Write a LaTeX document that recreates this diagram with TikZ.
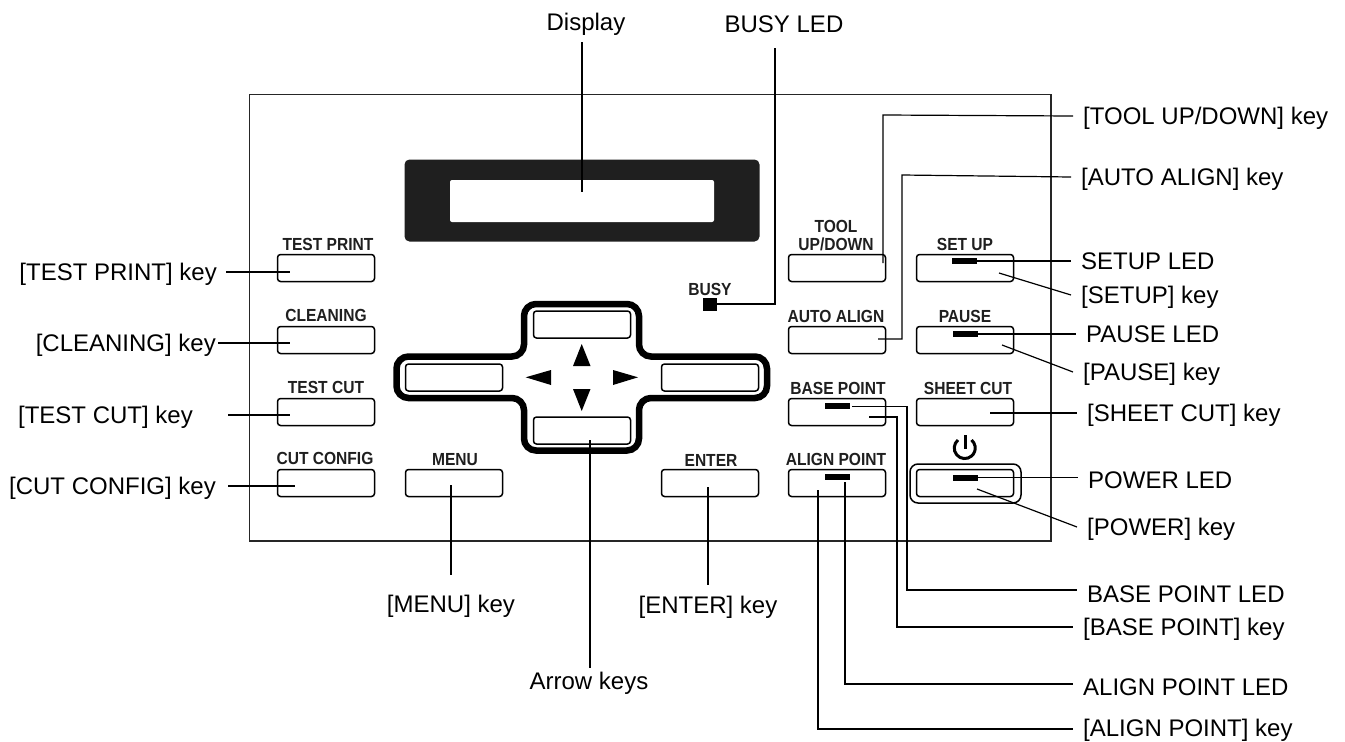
\documentclass[tikz,border=0pt]{standalone}
\usepackage{fontspec}
\setmainfont{Liberation Sans}
\newfontfamily\keyfont[BoldFeatures={FakeStretch=0.89}]{Liberation Sans}
\tikzset{
  x=1pt,y=-1pt,
  panelkey/.style={draw=black,line width=1.5pt,rounded corners=3pt,inner sep=0pt,minimum width=97pt,minimum height=27pt},
  keytext/.style={inner sep=0pt,font=\keyfont\fontsize{17.5}{18}\selectfont\bfseries,text=black!88},
  ledbar/.style={fill=black,inner sep=0pt,minimum width=25pt,minimum height=6pt},
  callout/.style={inner sep=0pt,font=\fontsize{24}{27}\selectfont,text height=17pt,text depth=0pt},
  rcall/.style={callout,anchor=west,inner xsep=10pt},
  lcall/.style={callout,anchor=east,inner xsep=9pt},
  leader/.style={draw=black,line width=1.2pt},
  tri/.style={fill=black,draw=none}
}
\begin{document}
\begin{tikzpicture}
\useasboundingbox (0,0) rectangle (1345,742);
% panel
\draw[line width=1.8pt,black!85] (249.5,94.5) rectangle (1051,541);
% display
\node[fill=black!88,rounded corners=5pt,inner sep=0pt,minimum width=355pt,minimum height=82pt] (dispframe) at (582,200.5) {};
\node[fill=white,rounded corners=2pt,inner sep=0pt,minimum width=264pt,minimum height=42pt] (dispwin) at (582,201) {};
% keys
\node[panelkey] (ktestprint) at (326,268) {};
\node[panelkey] (kcleaning) at (326,340) {};
\node[panelkey] (ktestcut) at (326,412) {};
\node[panelkey] (kcutconfig) at (326,483) {};
\node[panelkey] (kmenu) at (454,483) {};
\node[panelkey] (kenter) at (710,483) {};
\node[panelkey] (ktool) at (837,268) {};
\node[panelkey] (kauto) at (837,340) {};
\node[panelkey] (kbase) at (837,412) {};
\node[panelkey] (kalign) at (837,483) {};
\node[panelkey] (ksetup) at (965,268) {};
\node[panelkey] (kpause) at (965,340) {};
\node[panelkey] (ksheet) at (965,412) {};
\node[panelkey] (kpower) at (965,483) {};
\node[draw=black,line width=1.5pt,rounded corners=8pt,inner sep=0pt,minimum width=111pt,minimum height=39pt] (kpowerring) at (965.5,483.5) {};
% key captions
\node[keytext] (ttestprint) at (328,244) {TEST PRINT};
\node[keytext] (tcleaning) at (326,315) {CLEANING};
\node[keytext] (ttestcut) at (326,387) {TEST CUT};
\node[keytext] (tcutconfig) at (325,458) {CUT CONFIG};
\node[keytext] (tmenu) at (455,460) {MENU};
\node[keytext] (tenter) at (711,460) {ENTER};
\node[keytext,align=center] (ttool) at (836,236) {TOOL\\UP/DOWN};
\node[keytext] (tauto) at (836,316) {AUTO ALIGN};
\node[keytext] (tbase) at (838,388) {BASE POINT};
\node[keytext] (talign) at (836,459) {ALIGN POINT};
\node[keytext] (tsetup) at (965,244) {SET UP};
\node[keytext] (tpause) at (965,316) {PAUSE};
\node[keytext] (tsheet) at (968,388) {SHEET CUT};
\node[keytext] (tbusy) at (710,289) {BUSY};
% power symbol
\draw[line width=3pt] (958,440) arc[start angle=130,end angle=410,radius=10.5pt];
\draw[line width=3pt] (965,435) -- (965,449);
% arrow cluster
\node[panelkey] (kup) at (582,324.5) {};
\node[panelkey] (kdown) at (582,430.5) {};
\node[panelkey] (kleft) at (454,377.5) {};
\node[panelkey] (kright) at (710,377.5) {};
\draw[line width=6.5pt,rounded corners=12pt,black] (524,304) -- (639,304) -- (639,356.5) -- (767,356.5) -- (767,398) -- (639,398) -- (639,450.5) -- (524,450.5) -- (524,398) -- (396.5,398) -- (396.5,356.5) -- (524,356.5) -- cycle;
\fill[tri] (581.7,344) -- (590.5,366) -- (573,366) -- cycle;
\fill[tri] (581.7,411) -- (590.5,389) -- (573,389) -- cycle;
\fill[tri] (525.7,377.3) -- (551,370) -- (551,385) -- cycle;
\fill[tri] (638,377.3) -- (613,370) -- (613,385) -- cycle;
% LEDs
\node[fill=black,inner sep=0pt,minimum width=14pt,minimum height=13pt] (ledbusy) at (710,304) {};
\node[ledbar] (ledsetup) at (964.5,261) {};
\node[ledbar] (ledpause) at (965.5,334) {};
\node[ledbar] (ledbase) at (837.5,406) {};
\node[ledbar] (ledalign) at (837.5,477) {};
\node[ledbar] (ledpower) at (965.5,477.5) {};
% callout texts
\node[callout] (ldisplay) at (586,22) {Display};
\node[callout] (lbusy) at (784,24) {BUSY LED};
\node[rcall] (ltool) at (1073,116) {[TOOL UP/DOWN] key};
\node[rcall] (lauto) at (1071,177) {[AUTO ALIGN] key};
\node[rcall] (lsetupled) at (1071,261) {SETUP LED};
\node[rcall] (lsetup) at (1071,295) {[SETUP] key};
\node[rcall] (lpauseled) at (1076,334) {PAUSE LED};
\node[rcall] (lpause) at (1073,372) {[PAUSE] key};
\node[rcall] (lsheet) at (1077,413) {[SHEET CUT] key};
\node[rcall] (lpowerled) at (1078,480) {POWER LED};
\node[rcall] (lpower) at (1077,527) {[POWER] key};
\node[rcall] (lbaseled) at (1077,594) {BASE POINT LED};
\node[rcall] (lbase) at (1073,627) {[BASE POINT] key};
\node[rcall] (lalignled) at (1073,687) {ALIGN POINT LED};
\node[rcall] (lalign) at (1073,728) {[ALIGN POINT] key};
\node[lcall] (ltestprint) at (226,272) {[TEST PRINT] key};
\node[lcall,inner xsep=2pt] (lcleaning) at (218,343) {[CLEANING] key};
\node[lcall,inner xsep=35pt] (ltestcut) at (228,415) {[TEST CUT] key};
\node[lcall,inner xsep=12pt] (lcutconfig) at (228,486) {[CUT CONFIG] key};
\node[callout] (lmenu) at (451,604) {[MENU] key};
\node[callout] (lenter) at (708,605) {[ENTER] key};
\node[callout] (larrow) at (589,681) {Arrow keys};
% anchor points inside the keys
\coordinate (ptool) at (883,263);
\coordinate (pauto) at (878,339);
\coordinate (psetup) at (999,273);
\coordinate (ppause) at (1002,345);
\coordinate (psheet) at (990,413);
\coordinate (ppower) at (977,489);
\coordinate (pbase) at (869,417);
\coordinate (pleft1) at (290,272);
\coordinate (pleft2) at (290,343);
\coordinate (pleft3) at (290,415);
\coordinate (pleft4) at (295,486);
% leaders
\draw[leader] (582,42) -- (582,192);
\draw[leader] (ledbusy.east) -| (775,48);
\draw[leader] (ptool) -- (883,115) -- (ltool.west);
\draw[leader] (pauto) -- (902,339) -- (902,175) -- (lauto.west);
\draw[leader] (ledsetup.east) -- (lsetupled.west);
\draw[leader] (psetup) -- (lsetup.west);
\draw[leader] (ledpause.east) -- (lpauseled.west);
\draw[leader] (ppause) -- (lpause.west);
\draw[leader] (psheet) -- (lsheet.west |- psheet);
\draw[leader] (ledpower.east) -- (lpowerled.west |- ledpower.east);
\draw[leader] (ppower) -- (lpower.west);
\draw[leader] (852,406.5) -- (907,406.5) -- (907,590) -- (lbaseled.west |- 0,590);
\draw[leader] (pbase) -- (897,417) -- (897,627) -- (lbase.west);
\draw[leader] (845,482) -- (845,684) -- (lalignled.west |- 0,684);
\draw[leader] (818,490) -- (818,729) -- (lalign.west |- 0,729);
\draw[leader] (ltestprint.east) -- (pleft1);
\draw[leader] (lcleaning.east) -- (pleft2);
\draw[leader] (ltestcut.east) -- (pleft3);
\draw[leader] (lcutconfig.east) -- (pleft4);
\draw[leader] (451,485) -- (451,575);
\draw[leader] (708,487) -- (708,585);
\draw[leader] (590,440) -- (590,668);
\end{tikzpicture}
\end{document}
